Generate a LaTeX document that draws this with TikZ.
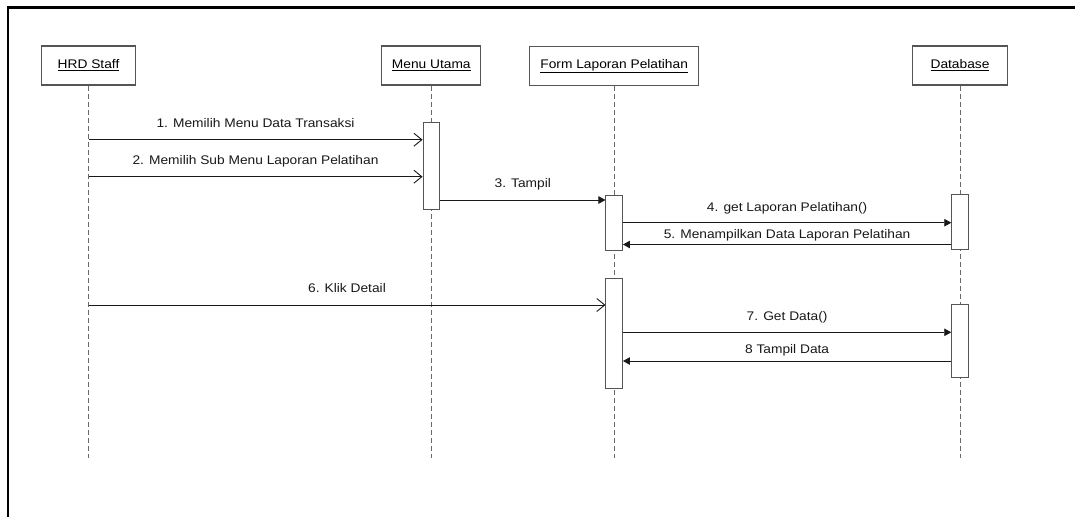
\documentclass[tikz,border=0pt]{standalone}
\usepackage{fontspec}
\setmainfont{Liberation Sans}[FakeStretch=1.1]
\usetikzlibrary{arrows.meta,positioning}
\definecolor{boxgray}{RGB}{85,85,85}
\definecolor{dashgray}{RGB}{105,105,105}
\definecolor{msgblack}{RGB}{25,25,25}

\tikzset{
  obj/.style={draw=boxgray, line width=1.1pt, minimum height=39pt, inner sep=0pt, font=\fontsize{12.5}{15}\selectfont},
  bar/.style={draw=boxgray, fill=white, line width=1pt, minimum width=16.5pt, inner sep=0pt},
  life/.style={draw=dashgray, line width=1pt, dash pattern=on 5pt off 3pt},
  call/.style={draw=msgblack, line width=0.9pt, -{Straight Barb[length=8pt,width=13pt]}},
  sync/.style={draw=msgblack, line width=0.9pt, -{Triangle[length=7pt,width=7.5pt]}},
  lbl/.style={font=\fontsize{12.5}{15}\selectfont, text=msgblack, inner sep=1pt, text height=9pt, text depth=3pt}
}

\begin{document}
\begin{tikzpicture}[x=1pt, y=-1pt]
    \useasboundingbox (0,0) rectangle (1075,517);
    \draw[line width=2.5pt] (1075,7.3) -- (7.8,7.3) -- (7.8,517);

    \node[obj, minimum width=94.5pt] (staff) at (88.5,65.5) {\underline{HRD Staff}};
    \node[obj, minimum width=99pt] (menu) at (431.3,65.5) {\underline{Menu Utama}};
    \node[obj, minimum width=169pt] (form) at (614.2,66) {\underline{Form Laporan Pelatihan}};
    \node[obj, minimum width=94.5pt] (db) at (960,65.5) {\underline{Database}};

    \coordinate (staffend) at (88.5,458);
    \coordinate (menuend) at (431.3,458);
    \coordinate (formend) at (614.2,458);
    \coordinate (dbend) at (960,458);
    \draw[life] (staff) -- (staffend);
    \draw[life] (menu) -- (menuend);
    \draw[life] (form) -- (formend);
    \draw[life] (db) -- (dbend);

    \node[bar, minimum height=87pt] (menubar) at (431.3,165.5) {};
    \node[bar, minimum height=55pt] (formbar1) at (614.2,223) {};
    \node[bar, minimum height=55.5pt] (dbbar1) at (960,222.2) {};
    \node[bar, minimum height=110pt] (formbar2) at (614.2,333.3) {};
    \node[bar, minimum height=73pt] (dbbar2) at (960,341) {};

    \coordinate (m1) at (88.5,139.7);
    \coordinate (m2) at (88.5,176.7);
    \coordinate (m6) at (88.5,305);
    \draw[call] (m1) -- (m1 -| menubar.west) node[lbl, midway, above=8pt] {1. Memilih Menu Data Transaksi};
    \draw[call] (m2) -- (m2 -| menubar.west) node[lbl, midway, above=8pt] {2. Memilih Sub Menu Laporan Pelatihan};
    \draw[sync] (menubar.east |- 0,200) -- (formbar1.west |- 0,200) node[lbl, midway, above=7.7pt] {3. Tampil};
    \draw[sync] (formbar1.east |- 0,222.7) -- (dbbar1.west |- 0,222.7) node[lbl, midway, above=7pt] {4. get Laporan Pelatihan()};
    \draw[sync] (dbbar1.west |- 0,244.5) -- (formbar1.east |- 0,244.5) node[lbl, midway, above=1.7pt] {5. Menampilkan Data Laporan Pelatihan};
    \draw[call] (m6) -- (m6 -| formbar2.west) node[lbl, midway, above=7.7pt] {6. Klik Detail};
    \draw[sync] (formbar2.east |- 0,332.3) -- (dbbar2.west |- 0,332.3) node[lbl, midway, above=7.6pt] {7. Get Data()};
    \draw[sync] (dbbar2.west |- 0,361) -- (formbar2.east |- 0,361) node[lbl, midway, above=3pt] {8 Tampil Data};
\end{tikzpicture}
\end{document}
